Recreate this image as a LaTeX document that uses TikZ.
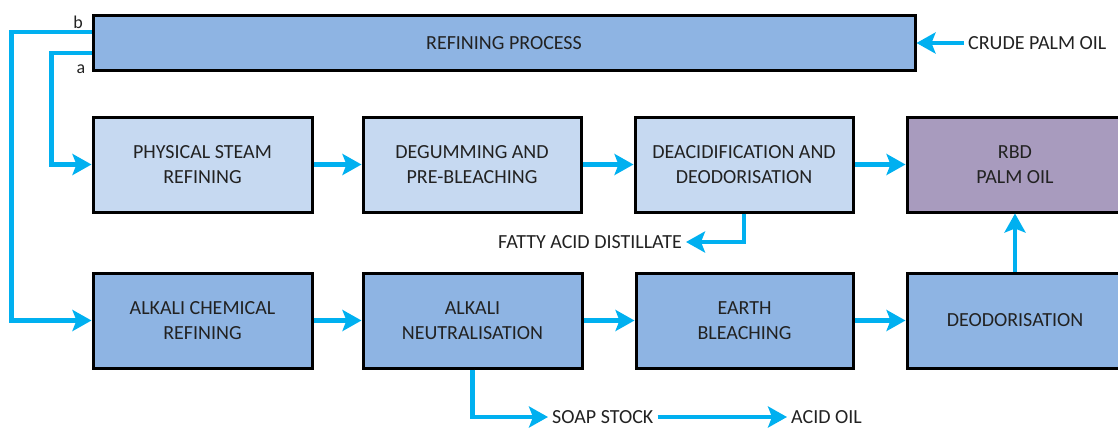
\documentclass[tikz,border=0pt]{standalone}
\usepackage{fontspec}
\setmainfont{Carlito}
\usetikzlibrary{arrows.meta}

\definecolor{boxblue}{RGB}{142,180,227}
\definecolor{boxlight}{RGB}{198,217,241}
\definecolor{boxpurple}{RGB}{168,155,190}
\definecolor{flowcyan}{RGB}{0,176,240}
\definecolor{ink}{RGB}{34,34,34}

\tikzset{
  stagebox/.style={draw=black, line width=3pt, minimum height=95pt,
    align=center, text=ink, inner sep=0pt,
    font=\fontsize{20}{25}\selectfont},
  darkstage/.style={stagebox, fill=boxblue},
  lightstage/.style={stagebox, fill=boxlight},
  flow/.style={draw=flowcyan, line width=4.5pt,
    -{Stealth[length=19pt,width=21pt,inset=4pt]}},
  outlabel/.style={text=ink, inner sep=4pt, font=\fontsize{20}{25}\selectfont},
  portlabel/.style={text=ink, inner sep=0pt, font=\fontsize{18}{20}\selectfont}
}

\begin{document}
\begin{tikzpicture}[x=1pt,y=-1pt]
  \useasboundingbox (0,0) rectangle (1118,428);
  \clip (0,0) rectangle (1118,428);

  % overall process bar
  \node[stagebox, fill=boxblue, minimum width=822pt, minimum height=54pt]
    (top) at (504,43) {REFINING PROCESS};
  \node[outlabel, anchor=west] (crude) at (964,43) {CRUDE PALM OIL};
  \node[portlabel] (lb) at (78,22) {b};
  \node[portlabel] (la) at (81,69) {a};

  % physical refining route
  \node[lightstage, minimum width=219pt] (p1) at (202.5,164.5) {PHYSICAL STEAM\\REFINING};
  \node[lightstage, minimum width=218pt] (p2) at (472,164.5) {DEGUMMING AND\\PRE-BLEACHING};
  \node[lightstage, minimum width=218pt] (p3) at (744,164.5) {DEACIDIFICATION AND\\DEODORISATION};
  \node[stagebox, fill=boxpurple, minimum width=216pt] (p4) at (1015,164.5) {RBD\\PALM OIL};

  % chemical refining route
  \node[darkstage, minimum width=219pt] (c1) at (202.5,320.5) {ALKALI CHEMICAL\\REFINING};
  \node[darkstage, minimum width=219pt] (c2) at (472.5,320.5) {ALKALI\\NEUTRALISATION};
  \node[darkstage, minimum width=217pt] (c3) at (744.5,320.5) {EARTH\\BLEACHING};
  \node[darkstage, minimum width=216pt] (c4) at (1015,320.5) {DEODORISATION};

  % by-products
  \node[outlabel, anchor=east] (fad) at (686,242) {FATTY ACID DISTILLATE};
  \node[outlabel, anchor=west] (soap) at (548,417) {SOAP STOCK};
  \node[outlabel, anchor=west] (acid) at (787,417) {ACID OIL};

  % connectors
  \draw[flow] (crude.west) -- (top.east);
  \draw[flow] ([yshift=11pt]top.west) -- ++(-80,0) |- (c1.west);
  \draw[flow] ([yshift=-10pt]top.west) -- ++(-40,0) |- (p1.west);

  \draw[flow] (p1) -- (p2);
  \draw[flow] (p2) -- (p3);
  \draw[flow] (p3) -- (p4);
  \draw[flow] (p3.south) |- (fad.east);

  \draw[flow] (c1) -- (c2);
  \draw[flow] (c2) -- (c3);
  \draw[flow] (c3) -- (c4);
  \draw[flow] (c4) -- (p4);
  \draw[flow] (c2.south) |- (soap.west);
  \draw[flow] (soap.east) -- (acid.west);
\end{tikzpicture}
\end{document}
